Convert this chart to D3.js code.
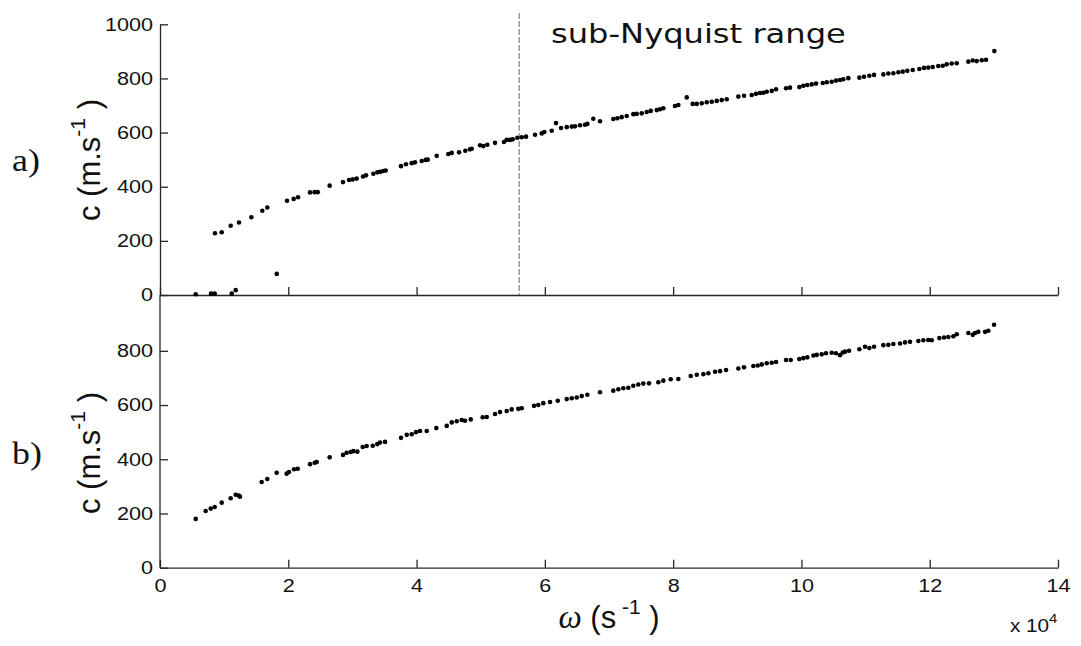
<!DOCTYPE html>
<html><head><meta charset="utf-8">
<script src="https://cdn.jsdelivr.net/npm/d3@7"></script>
<style>body{margin:0;background:#fff}</style>
</head><body><svg id="chart" width="1081" height="646"></svg>
<script>
// ---- data (omega in units of 1e4 s^-1, c in m/s) ----
const xTicks = [0, 2, 4, 6, 8, 10, 12, 14];
const yTicksTop = [0, 200, 400, 600, 800, 1000];
const yTicksBottom = [0, 200, 400, 600, 800];
const nyquistOmega = 5.6;
const annotation = "sub-Nyquist range";

const topOmega = [0.557,0.795,0.853,1.118,1.18,1.82,
0.857,0.962,1.102,1.232,1.424,1.595,1.673,1.98,2.084,2.152,2.339,2.41,2.46,2.645,2.853,2.947,3.004,3.066,3.165,3.212,3.326,3.388,3.435,3.482,3.519,
3.757,3.835,3.924,3.976,4.080,4.142,4.174,4.314,4.495,4.548,4.662,4.760,4.833,4.860,4.989,5.041,5.103,5.223,5.363,5.405,5.457,5.499,5.571,5.639,5.706,5.847,5.951,5.992,6.107,6.174,6.252,6.341,6.419,6.470,6.548,6.626,6.662,6.755,6.860,7.067,7.130,7.198,7.276,7.379,7.432,7.510,7.588,7.650,7.744,7.795,7.847,8.029,8.081,
8.212,8.305,8.368,8.446,8.524,8.602,8.680,8.757,8.835,
9.016,9.105,9.225,9.292,9.355,9.406,9.459,9.537,9.604,9.760,9.822,9.967,10.030,10.092,10.161,10.228,10.332,10.395,10.472,10.539,10.602,10.653,10.731,10.903,10.976,11.059,11.132,11.277,11.355,11.433,11.511,11.579,11.651,11.735,11.838,11.911,11.978,12.047,12.134,12.203,12.265,12.343,12.421,12.602,12.671,12.733,12.811,12.878,13.008];
const topC = [3,5,5,5,18,78,
228,232,256,268,287,311,323,348,355,361,379,380,380,404,417,425,427,430,438,442,448,453,455,458,460,
476,483,487,490,495,499,500,514,521,525,527,533,538,540,553,550,555,562,565,573,573,575,581,583,585,592,597,602,607,635,617,620,622,623,627,629,632,651,642,650,653,657,661,668,669,671,676,680,683,686,690,698,702,
730,706,706,708,712,714,717,720,723,
733,736,739,743,746,747,751,754,760,764,766,768,773,776,778,781,783,786,788,792,794,797,801,803,806,810,813,815,818,819,823,825,828,831,835,839,840,842,846,847,852,855,856,862,866,864,867,869,901];

const bottomOmega = [0.557,0.712,0.790,0.853,0.962,1.102,1.180,1.227,1.247,1.585,1.673,1.819,1.975,2.011,2.089,2.147,2.339,2.412,2.443,2.645,2.853,2.910,2.973,3.014,3.077,3.160,3.222,3.316,3.388,3.430,3.508,3.757,3.846,3.924,3.991,4.054,4.158,4.308,4.470,
4.548,4.626,4.704,4.755,4.844,5.031,5.094,5.223,5.301,5.405,5.483,5.586,5.639,5.831,5.898,5.976,6.081,6.201,6.341,6.419,6.497,6.575,6.662,6.860,7.067,7.145,7.223,7.301,7.379,7.457,7.535,7.624,7.769,7.847,7.962,8.081,8.274,8.368,8.471,8.549,8.654,8.732,8.825,
9.016,9.105,9.250,9.319,9.381,9.459,9.537,9.604,9.760,9.833,9.967,10.030,10.092,10.186,10.238,10.316,10.383,10.472,10.539,10.602,10.644,10.680,10.742,10.903,10.992,11.059,11.132,11.277,11.355,11.433,11.537,11.615,11.693,11.823,11.901,11.978,12.031,12.150,12.223,12.290,12.368,12.421,12.602,12.671,12.707,12.758,12.863,12.914,13.003];
const bottomC = [180,209,218,224,240,256,269,266,262,316,327,350,347,353,363,365,382,387,390,407,416,424,427,430,428,445,449,450,456,462,464,479,490,492,500,504,504,515,523,
536,540,545,542,547,555,556,567,574,578,584,586,588,597,600,607,611,616,622,625,628,633,638,647,653,658,662,664,671,676,679,680,684,690,695,696,707,712,714,717,723,725,729,
735,739,744,746,750,754,756,759,766,766,770,773,776,783,785,787,791,793,791,784,794,797,800,806,815,810,815,821,822,825,827,831,833,836,839,840,839,847,849,851,854,861,866,859,866,870,870,874,896];

// ---- drawing ----
const svg = d3.select('#chart');
svg.append('rect').attr('width', 1081).attr('height', 646).attr('fill', '#fff');

const x = d3.scaleLinear().domain([0, 14]).range([160, 1058]);
const yA = d3.scaleLinear().domain([0, 1000]).range([295, 24.3]);
const yB = d3.scaleLinear().domain([0, 1000]).range([567.7, 296.6]);

const axisColor = '#262626';
const tickFont = 'Liberation Sans, Arial, sans-serif';
const fmt = d3.format('d');

function hstretch(sel, k) {
  sel.each(function () {
    const L = this.getComputedTextLength();
    d3.select(this).attr('textLength', L * k).attr('lengthAdjust', 'spacingAndGlyphs');
  });
}
function styleAxis(g) {
  g.selectAll('path.domain').attr('stroke', axisColor).attr('stroke-width', 1.3);
  g.selectAll('.tick line').attr('stroke', axisColor).attr('stroke-width', 1.3);
  g.selectAll('.tick text').attr('font-family', tickFont).attr('font-size', 18).attr('fill', '#111');
  hstretch(g.selectAll('.tick text'), 1.2);
}

// dashed Nyquist line (behind)
svg.append('line')
  .attr('x1', x(nyquistOmega)).attr('x2', x(nyquistOmega))
  .attr('y1', 13).attr('y2', yA(0))
  .attr('stroke', '#7a7a7a').attr('stroke-width', 1.1).attr('stroke-dasharray', '6,2');

// top panel axes
const gxA = svg.append('g').attr('transform', `translate(0,${yA(0)})`)
  .call(d3.axisBottom(x).tickValues(xTicks).tickSize(-8).tickSizeOuter(0).tickFormat(''));
styleAxis(gxA);
const gyA = svg.append('g').attr('transform', `translate(${x(0)},0)`)
  .call(d3.axisLeft(yA).tickValues(yTicksTop).tickFormat(fmt).tickSize(-8).tickSizeOuter(0).tickPadding(7));
styleAxis(gyA);

// bottom panel axes
const gxB = svg.append('g').attr('transform', `translate(0,${yB(0)})`)
  .call(d3.axisBottom(x).tickValues(xTicks).tickFormat(fmt).tickSize(-8).tickSizeOuter(0).tickPadding(12));
styleAxis(gxB);
const gyB = svg.append('g').attr('transform', `translate(${x(0)},0)`)
  .call(d3.axisLeft(yB).tickValues(yTicksBottom).tickFormat(fmt).tickSize(-8).tickSizeOuter(0).tickPadding(7));
styleAxis(gyB);
gyB.select('path.domain').attr('d', `M0,${yB(0)}V${yA(0)}`);

// points
svg.append('g').selectAll('circle').data(d3.range(topOmega.length)).join('circle')
  .attr('cx', i => x(topOmega[i])).attr('cy', i => yA(topC[i])).attr('r', 2.3).attr('fill', '#000');
svg.append('g').selectAll('circle').data(d3.range(bottomOmega.length)).join('circle')
  .attr('cx', i => x(bottomOmega[i])).attr('cy', i => yB(bottomC[i])).attr('r', 2.3).attr('fill', '#000');

// annotation
const ann = svg.append('text').attr('x', 551).attr('y', 43)
  .attr('font-family', 'DejaVu Sans, sans-serif').attr('font-size', 27).attr('fill', '#111')
  .text(annotation);
hstretch(ann, 1.19);

// y labels
function ylabel(cy) {
  const t = svg.append('text').attr('transform', `translate(100,${cy}) rotate(-90)`)
    .attr('text-anchor', 'middle').attr('font-family', tickFont).attr('font-size', 31).attr('fill', '#111');
  t.append('tspan').text('c (m.s');
  t.append('tspan').attr('font-size', 21).attr('dy', -15).text('-1');
  t.append('tspan').attr('dy', 15).text(' )');
}
ylabel(160);
ylabel(453);

// panel letters
function letter(txt, y) {
  const t = svg.append('text').attr('x', 12).attr('y', y).attr('font-family', 'Liberation Serif, serif')
    .attr('font-size', 32).attr('fill', '#111').text(txt);
  hstretch(t, 1.12);
}
letter('a)', 171);
letter('b)', 464);

// x label
const xl = svg.append('text').attr('x', (x(0) + x(14)) / 2).attr('y', 628)
  .attr('text-anchor', 'middle').attr('font-family', tickFont).attr('font-size', 31).attr('fill', '#111');
xl.append('tspan').attr('font-family', 'Liberation Serif, serif').attr('font-style', 'italic').attr('font-size', 33).text('ω');
xl.append('tspan').text(' (s');
xl.append('tspan').attr('font-size', 21).attr('dy', -14).text(' -1');
xl.append('tspan').attr('dy', 14).text(' )');

// exponent
const ex = svg.append('text').attr('x', 1010).attr('y', 632)
  .attr('font-family', tickFont).attr('font-size', 18).attr('fill', '#111');
ex.append('tspan').text('x 10');
ex.append('tspan').attr('font-size', 13).attr('dy', -9).text('4');
hstretch(ex, 1.15);
</script></body></html>
